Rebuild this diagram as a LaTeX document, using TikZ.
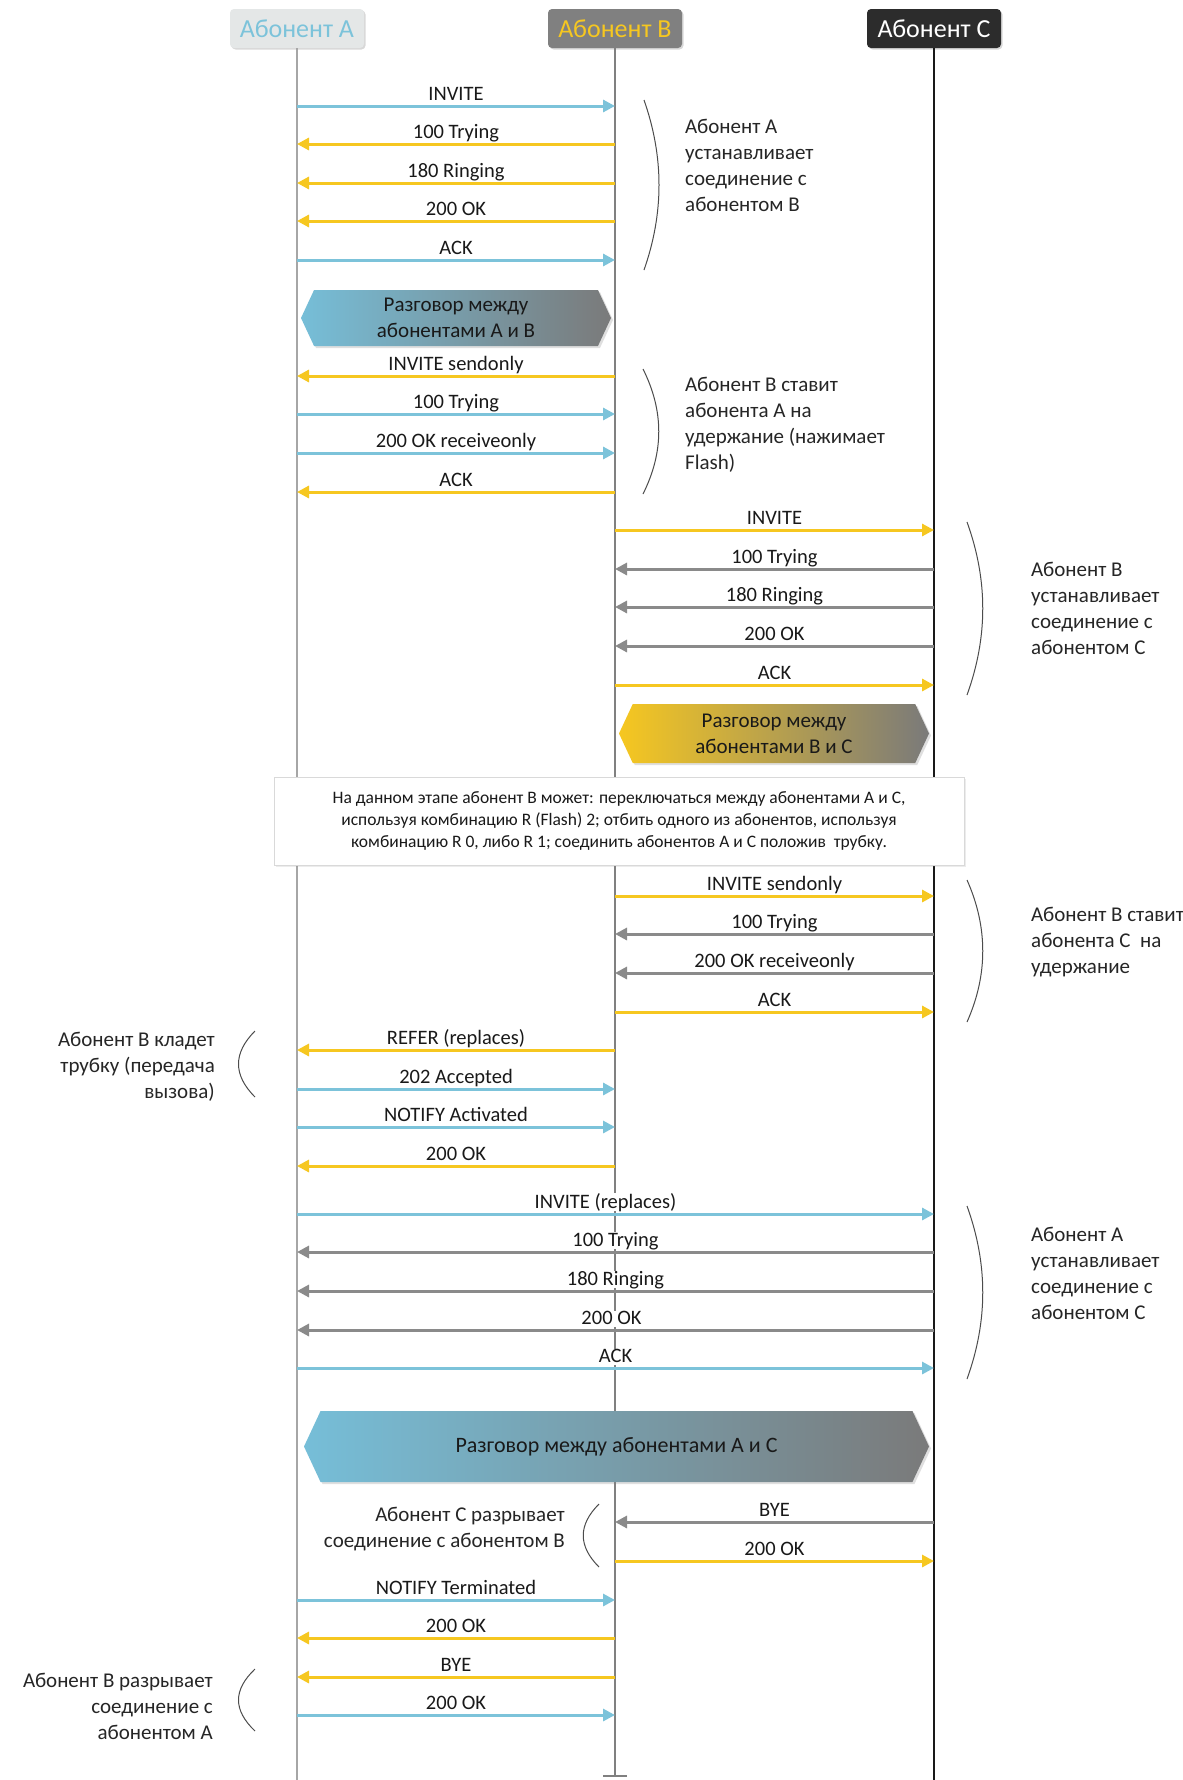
\documentclass[tikz,border=0pt]{standalone}
\usepackage{fontspec}
\setmainfont{Carlito}
\usetikzlibrary{arrows.meta,positioning,shapes.symbols,shadows}
\definecolor{callblue}{RGB}{124,195,218}
\definecolor{callyellow}{RGB}{246,199,32}
\definecolor{callgray}{RGB}{138,138,138}
\definecolor{headgray}{RGB}{128,128,128}
\definecolor{headdark}{RGB}{44,44,44}
\definecolor{headlight}{RGB}{228,231,231}
\definecolor{bandblue}{RGB}{118,190,216}
\definecolor{bandgray}{RGB}{122,122,122}

\begin{document}
\begin{tikzpicture}[x=1pt, y=-1pt,
  head/.style={rectangle, rounded corners=4pt, minimum width=134pt, minimum height=39pt, inner sep=0pt, font=\fontsize{26}{30}\selectfont, drop shadow={opacity=0.3, shadow xshift=1.5pt, shadow yshift=-1.5pt}},
  life/.style={line width=2pt},
  sendA/.style={line width=3pt, callblue, -{Triangle[length=12pt,width=12pt]}},
  sendB/.style={line width=3pt, callyellow, -{Triangle[length=12pt,width=12pt]}},
  sendC/.style={line width=3pt, callgray, -{Triangle[length=12pt,width=12pt]}},
  lbl/.style={above=2pt, inner sep=0pt, fill=white, text depth=2.5pt, text=black!90, font=\fontsize{20.5}{24}\selectfont},
  note/.style={font=\fontsize{21}{26}\selectfont, text=black!85, inner sep=0pt},
  brace/.style={line width=1pt, black!70},
  talk/.style={signal, signal to=west and east, signal pointer angle=130, inner sep=0pt, align=center, text=black!90, drop shadow={opacity=0.25, shadow xshift=2pt, shadow yshift=-2pt}}]
\useasboundingbox (0,0) rectangle (1183,1780);
\fill[white] (0,0) rectangle (1183,1780);

% subscribers and lifelines
\node[head, fill=headlight, text=callblue] (hA) at (297,28.5) {Абонент А};
\node[head, fill=headgray, text=callyellow] (hB) at (615,28.5) {Абонент В};
\node[head, fill=headdark, text=white] (hC) at (934,28.5) {Абонент С};
\coordinate (eA) at (297,1780);
\coordinate (eB) at (615,1777);
\coordinate (eC) at (934,1780);
\draw[life, black!35] (hA.south) -- (eA);
\draw[life, headgray, -{Bar[width=24pt]}] (hB.south) -- (eB);
\draw[life, black!90] (hC.south) -- (eC);

% message rows
\foreach \n/\y in {1/106,2/144,3/183,4/221,5/260,6/376,7/414,8/453,9/492,10/530,11/569,12/607,13/646,14/685,15/896,16/934,17/973,18/1012,19/1050,20/1089,21/1127,22/1166,23/1214,24/1252,25/1291,26/1330,27/1368,28/1522,29/1561,30/1600,31/1638,32/1677,33/1715} {
  \coordinate (a\n) at (297,\y);
  \coordinate (b\n) at (615,\y);
  \coordinate (c\n) at (934,\y);
}

% conversations and note
\node[talk, left color=bandblue, right color=bandgray, minimum width=310pt, minimum height=56pt, font=\fontsize{21}{26}\selectfont] (ab) at (456,318) {Разговор между\\абонентами А и В};
\node[talk, left color=callyellow, right color=bandgray, minimum width=310pt, minimum height=59pt, font=\fontsize{21}{26}\selectfont] (bc) at (774,733.5) {Разговор между\\абонентами В и С};
\node[draw=black!15, fill=white, minimum width=690pt, minimum height=88pt, align=center, font=\fontsize{17.5}{22}\selectfont, text=black!90, drop shadow={opacity=0.15, shadow xshift=1.5pt, shadow yshift=-1.5pt}] (stage) at (619,821) {На данном этапе абонент В может: переключаться между абонентами А и С,\\используя комбинацию R (Flash) 2; отбить одного из абонентов, используя\\комбинацию R 0, либо R 1; соединить абонентов А и С положив\ \ трубку.};
\node[talk, left color=bandblue, right color=bandgray, minimum width=625pt, minimum height=71pt, font=\fontsize{22}{26}\selectfont] (ac) at (616.5,1446.5) {Разговор между абонентами А и С};

% A calls B
\draw[sendA] (a1) -- node[lbl]{INVITE} (b1);
\draw[sendB] (b2) -- node[lbl]{100 Trying} (a2);
\draw[sendB] (b3) -- node[lbl]{180 Ringing} (a3);
\draw[sendB] (b4) -- node[lbl]{200 OK} (a4);
\draw[sendA] (a5) -- node[lbl]{ACK} (b5);
% B holds A
\draw[sendB] (b6) -- node[lbl]{INVITE sendonly} (a6);
\draw[sendA] (a7) -- node[lbl]{100 Trying} (b7);
\draw[sendA] (a8) -- node[lbl]{200 OK receiveonly} (b8);
\draw[sendB] (b9) -- node[lbl]{ACK} (a9);
% B calls C
\draw[sendB] (b10) -- node[lbl]{INVITE} (c10);
\draw[sendC] (c11) -- node[lbl]{100 Trying} (b11);
\draw[sendC] (c12) -- node[lbl]{180 Ringing} (b12);
\draw[sendC] (c13) -- node[lbl]{200 OK} (b13);
\draw[sendB] (b14) -- node[lbl]{ACK} (c14);
% B holds C
\draw[sendB] (b15) -- node[lbl]{INVITE sendonly} (c15);
\draw[sendC] (c16) -- node[lbl]{100 Trying} (b16);
\draw[sendC] (c17) -- node[lbl]{200 OK receiveonly} (b17);
\draw[sendB] (b18) -- node[lbl]{ACK} (c18);
% transfer
\draw[sendB] (b19) -- node[lbl]{REFER (replaces)} (a19);
\draw[sendA] (a20) -- node[lbl]{202 Accepted} (b20);
\draw[sendA] (a21) -- node[lbl]{NOTIFY Activated} (b21);
\draw[sendB] (b22) -- node[lbl]{200 OK} (a22);
% A calls C
\draw[sendA] (a23) -- node[lbl, xshift=-10pt]{INVITE (replaces)} (c23);
\draw[sendC] (c24) -- node[lbl]{100 Trying} (a24);
\draw[sendC] (c25) -- node[lbl]{180 Ringing} (a25);
\draw[sendC] (c26) -- node[lbl, xshift=-4pt]{200 OK} (a26);
\draw[sendA] (a27) -- node[lbl]{ACK} (c27);
% release
\draw[sendC] (c28) -- node[lbl]{BYE} (b28);
\draw[sendB] (b29) -- node[lbl]{200 OK} (c29);
\draw[sendA] (a30) -- node[lbl]{NOTIFY Terminated} (b30);
\draw[sendB] (b31) -- node[lbl]{200 OK} (a31);
\draw[sendB] (b32) -- node[lbl]{BYE} (a32);
\draw[sendA] (a33) -- node[lbl]{200 OK} (b33);

% comments
\node[note, anchor=west, align=left] (n1) at (685,165) {Абонент А\\устанавливает\\соединение с\\абонентом В};
\draw[brace] (644,100) .. controls (664,157) and (664,213) .. (644,270);
\node[note, anchor=west, align=left] (n2) at (685,425) {Абонент В ставит\\абонента А на\\удержание (нажимает\\Flash)};
\draw[brace] (643,369) .. controls (664,411) and (664,452) .. (643,494);
\node[note, anchor=west, align=left] (n3) at (1031,608.5) {Абонент В\\устанавливает\\соединение с\\абонентом С};
\draw[brace] (967,522) .. controls (988,580) and (988,637) .. (967,695);
\node[note, anchor=west, align=left] (n4) at (1031,942) {Абонент В ставит\\абонента С\ \ на\\удержание};
\draw[brace] (967,880) .. controls (988,927) and (988,975) .. (967,1022);
\node[note, anchor=east, align=right] (n5) at (215,1067) {Абонент В кладет\\трубку (передача\\вызова)};
\draw[brace] (255,1031) .. controls (233,1053) and (233,1075) .. (255,1097);
\node[note, anchor=west, align=left] (n6) at (1031,1273) {Абонент А\\устанавливает\\соединение с\\абонентом С};
\draw[brace] (967,1206) .. controls (988,1264) and (988,1321) .. (967,1379);
\node[note, anchor=east, align=right] (n7) at (565,1529) {Абонент С разрывает\\соединение с абонентом В};
\draw[brace] (599,1504) .. controls (578,1525) and (578,1546) .. (599,1567);
\node[note, anchor=east, align=right] (n8) at (213,1706) {Абонент В разрывает\\соединение с\\абонентом А};
\draw[brace] (255,1669) .. controls (233,1690) and (233,1710) .. (255,1731);
\end{tikzpicture}
\end{document}
